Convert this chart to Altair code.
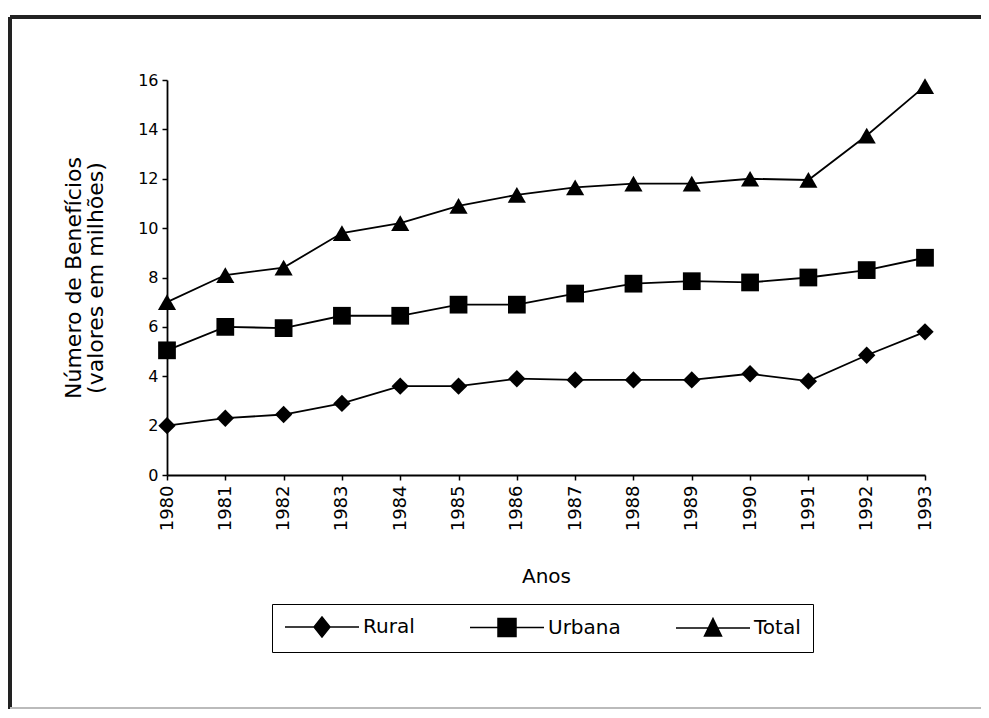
import altair as alt
import pandas as pd

years = [1980, 1981, 1982, 1983, 1984, 1985, 1986, 1987, 1988, 1989, 1990, 1991, 1992, 1993]
rural = [2.0, 2.3, 2.45, 2.9, 3.6, 3.6, 3.9, 3.85, 3.85, 3.85, 4.1, 3.8, 4.85, 5.8]
urbana = [5.05, 6.0, 5.95, 6.45, 6.45, 6.9, 6.9, 7.35, 7.75, 7.85, 7.8, 8.0, 8.3, 8.8]
total = [7.0, 8.1, 8.4, 9.8, 10.2, 10.9, 11.35, 11.65, 11.8, 11.8, 12.0, 11.95, 13.75, 15.75]

series_names = ["Rural", "Urbana", "Total"]
y_ticks = [0, 2, 4, 6, 8, 10, 12, 14, 16]

rows = []
for name, vals in zip(series_names, [rural, urbana, total]):
    for yr, v in zip(years, vals):
        rows.append({"Ano": yr, "Valor": v, "Serie": name})
df = pd.DataFrame(rows)

FONT = "DejaVu Sans"

x_enc = alt.X(
    "Ano:Q",
    scale=alt.Scale(domain=[1980, 1993], nice=False, zero=False),
    axis=alt.Axis(
        title="Anos", values=years, format="d", labelAngle=-90,
        labelFontSize=18, labelFont=FONT, labelColor="black",
        titleFontSize=20, titleFont=FONT, titleFontWeight="normal", titleColor="black",
        titlePadding=36, tickSize=5, tickColor="black", domainColor="black",
        domainWidth=1.8, tickWidth=1.5, labelPadding=5, grid=False,
    ),
)
y_enc = alt.Y(
    "Valor:Q",
    scale=alt.Scale(domain=[0, 16], nice=False),
    axis=alt.Axis(
        title=["Número de Benefícios", "(valores em milhões)"], values=y_ticks,
        labelFontSize=16, labelFont=FONT, labelColor="black",
        titleFontSize=22, titleFont=FONT, titleFontWeight="normal", titleColor="black",
        titleLineHeight=22, titlePadding=30, tickSize=5, tickColor="black",
        domainColor="black", domainWidth=1.8, tickWidth=1.5, labelPadding=4, grid=False,
    ),
)

base = alt.Chart(df)

lines = base.mark_line(color="black", strokeWidth=1.8).encode(
    x=x_enc, y=y_enc, detail="Serie:N"
)

points = base.mark_point(filled=True, color="black", opacity=1).encode(
    x="Ano:Q",
    y="Valor:Q",
    shape=alt.Shape("Serie:N", scale=alt.Scale(domain=series_names,
                    range=["diamond", "square", "triangle-up"]), legend=None),
    size=alt.Size("Serie:N", scale=alt.Scale(domain=series_names,
                  range=[300, 330, 380]), legend=None),
)

# legend symbols: line with the marker in its middle (units of 10 px, symbolSize 400)
legend_paths = [
    "M-1,0L6.4,0M2.7,-1L3.5,0L2.7,1L1.9,0Z",
    "M-1,0L6.4,0M1.8,-0.9L3.6,-0.9L3.6,0.9L1.8,0.9Z",
    "M-1,0L6.4,0M2.7,-0.95L3.55,0.8L1.85,0.8Z",
]

legend_layer = base.mark_point(
    filled=True, fill="black", stroke="black", strokeWidth=1.5, opacity=0
).encode(
    x="Ano:Q",
    y="Valor:Q",
    shape=alt.Shape(
        "Serie:N",
        scale=alt.Scale(domain=series_names, range=legend_paths),
        legend=alt.Legend(
            title=None, orient="none", legendX=105, legendY=524,
            direction="horizontal", labelFontSize=20, labelFont=FONT,
            labelColor="black", symbolSize=400, symbolOpacity=1,
            symbolStrokeWidth=1.5, labelOffset=57, columnPadding=52,
            padding=12, strokeColor="black",
        ),
    ),
)

frame_left = alt.Chart(df).mark_rule(color="#222222", strokeWidth=3).encode(
    x=alt.value(-157), y=alt.value(-63), y2=alt.value(629)
)
frame_top = alt.Chart(df).mark_rule(color="#222222", strokeWidth=3).encode(
    x=alt.value(-157), x2=alt.value(820), y=alt.value(-63)
)
frame_bottom = alt.Chart(df).mark_rule(color="#bbbbbb", strokeWidth=2).encode(
    x=alt.value(-157), x2=alt.value(820), y=alt.value(628)
)

chart = (
    alt.layer(frame_left, frame_top, frame_bottom, lines, points, legend_layer)
    .resolve_scale(shape="independent", size="independent")
    .properties(
        width=758, height=395,
        autosize=alt.AutoSizeParams(type="none"),
        padding={"left": 159, "top": 72, "right": 56, "bottom": 235},
        background="white",
    )
    .configure_view(stroke=None)
)

chart.save("out.html", embed_options={"renderer": "svg", "actions": False})
